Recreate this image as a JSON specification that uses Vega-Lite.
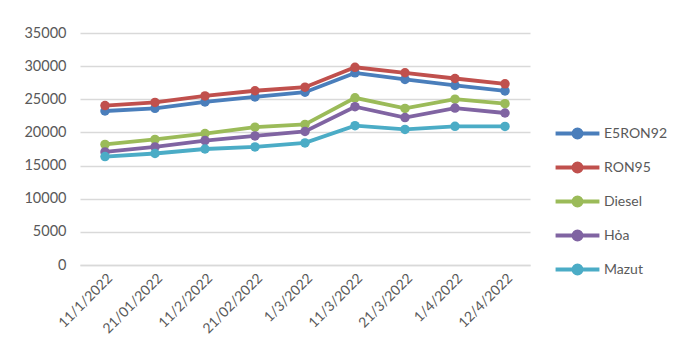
{
  "$schema": "https://vega.github.io/schema/vega-lite/v6.json",
  "autosize": "none",
  "width": 450,
  "height": 232,
  "padding": {"left": 80, "top": 33, "right": 155, "bottom": 86},
  "background": "white",
  "config": {"view": {"stroke": null}, "font": "Lato"},
  "data": {"values": [
    {"date": "11/1/2022", "fuel": "E5RON92", "price": 23233},
    {"date": "21/01/2022", "fuel": "E5RON92", "price": 23642},
    {"date": "11/2/2022", "fuel": "E5RON92", "price": 24602},
    {"date": "21/02/2022", "fuel": "E5RON92", "price": 25353},
    {"date": "1/3/2022", "fuel": "E5RON92", "price": 26070},
    {"date": "11/3/2022", "fuel": "E5RON92", "price": 28986},
    {"date": "21/3/2022", "fuel": "E5RON92", "price": 28000},
    {"date": "1/4/2022", "fuel": "E5RON92", "price": 27091},
    {"date": "12/4/2022", "fuel": "E5RON92", "price": 26265},
    {"date": "11/1/2022", "fuel": "RON95", "price": 24056},
    {"date": "21/01/2022", "fuel": "RON95", "price": 24526},
    {"date": "11/2/2022", "fuel": "RON95", "price": 25505},
    {"date": "21/02/2022", "fuel": "RON95", "price": 26287},
    {"date": "1/3/2022", "fuel": "RON95", "price": 26831},
    {"date": "11/3/2022", "fuel": "RON95", "price": 29824},
    {"date": "21/3/2022", "fuel": "RON95", "price": 29001},
    {"date": "1/4/2022", "fuel": "RON95", "price": 28137},
    {"date": "12/4/2022", "fuel": "RON95", "price": 27335},
    {"date": "11/1/2022", "fuel": "Diesel", "price": 18186},
    {"date": "21/01/2022", "fuel": "Diesel", "price": 18937},
    {"date": "11/2/2022", "fuel": "Diesel", "price": 19836},
    {"date": "21/02/2022", "fuel": "Diesel", "price": 20788},
    {"date": "1/3/2022", "fuel": "Diesel", "price": 21209},
    {"date": "11/3/2022", "fuel": "Diesel", "price": 25226},
    {"date": "21/3/2022", "fuel": "Diesel", "price": 23620},
    {"date": "1/4/2022", "fuel": "Diesel", "price": 25013},
    {"date": "12/4/2022", "fuel": "Diesel", "price": 24342},
    {"date": "11/1/2022", "fuel": "Hỏa", "price": 17061},
    {"date": "21/01/2022", "fuel": "Hỏa", "price": 17818},
    {"date": "11/2/2022", "fuel": "Hỏa", "price": 18777},
    {"date": "21/02/2022", "fuel": "Hỏa", "price": 19468},
    {"date": "1/3/2022", "fuel": "Hỏa", "price": 20138},
    {"date": "11/3/2022", "fuel": "Hỏa", "price": 23880},
    {"date": "21/3/2022", "fuel": "Hỏa", "price": 22240},
    {"date": "1/4/2022", "fuel": "Hỏa", "price": 23678},
    {"date": "12/4/2022", "fuel": "Hỏa", "price": 22930},
    {"date": "11/1/2022", "fuel": "Mazut", "price": 16360},
    {"date": "21/01/2022", "fuel": "Mazut", "price": 16820},
    {"date": "11/2/2022", "fuel": "Mazut", "price": 17500},
    {"date": "21/02/2022", "fuel": "Mazut", "price": 17810},
    {"date": "1/3/2022", "fuel": "Mazut", "price": 18420},
    {"date": "11/3/2022", "fuel": "Mazut", "price": 21025},
    {"date": "21/3/2022", "fuel": "Mazut", "price": 20455},
    {"date": "1/4/2022", "fuel": "Mazut", "price": 20925},
    {"date": "12/4/2022", "fuel": "Mazut", "price": 20905}
  ]},
  "mark": {"type": "line", "strokeWidth": 3.8, "point": {"size": 90, "filled": true, "opacity": 1}},
  "encoding": {
    "x": {
      "field": "date", "type": "ordinal",
      "sort": ["11/1/2022", "21/01/2022", "11/2/2022", "21/02/2022", "1/3/2022", "11/3/2022", "21/3/2022", "1/4/2022", "12/4/2022"],
      "scale": {"type": "point", "padding": 0.5},
      "axis": {"title": null, "labelAngle": -45, "labelFontSize": 14, "labelColor": "#595959", "ticks": false, "domainColor": "#d9d9d9", "domainWidth": 1.5, "labelPadding": 6}
    },
    "y": {
      "field": "price", "type": "quantitative",
      "scale": {"domain": [0, 35000]},
      "axis": {"title": null, "values": [0, 5000, 10000, 15000, 20000, 25000, 30000, 35000], "format": "d", "labelFontSize": 14.5, "labelColor": "#595959", "ticks": false, "domain": false, "gridColor": "#d9d9d9", "gridWidth": 1.5, "labelPadding": 14}
    },
    "color": {
      "field": "fuel", "type": "nominal",
      "sort": ["E5RON92", "RON95", "Diesel", "Hỏa", "Mazut"],
      "scale": {"domain": ["E5RON92", "RON95", "Diesel", "Hỏa", "Mazut"], "range": ["#4A7EBB", "#C0504D", "#9BBB59", "#8064A2", "#4BACC6"]},
      "legend": {
        "title": null, "orient": "none", "legendX": 476, "legendY": 79,
        "padding": 0,
        "symbolType": "M-1.14,0L1.14,0M-0.21,0A0.21,0.21 0 1,1 0.21,0A0.21,0.21 0 1,1 -0.21,0",
        "symbolSize": 1480, "symbolStrokeWidth": 3.8,
        "rowPadding": 0, "labelOffset": 5,
        "labelFontSize": 14, "labelColor": "#595959"
      }
    }
  }
}
